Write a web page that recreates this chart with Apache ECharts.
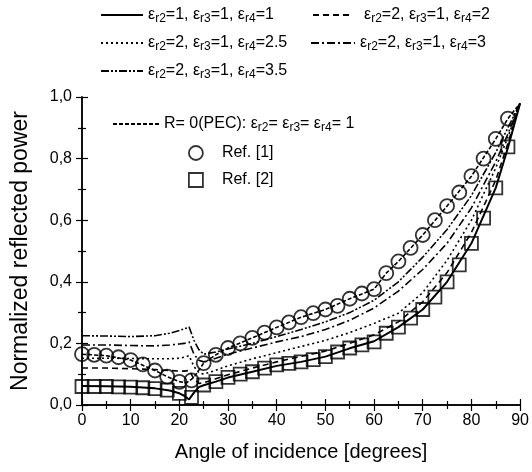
<!DOCTYPE html>
<html><head><meta charset="utf-8">
<script src="https://cdn.jsdelivr.net/npm/echarts@6/dist/echarts.min.js"></script>
<style>html,body{margin:0;padding:0;background:#fff}#c{width:532px;height:472px}</style>
</head><body><div id="c"></div>
<script>
// ---- data ----
const lineAngles = [0,5,10,15,18,20,21,22,23,24,25,27.5,30,35,40,45,50,55,60,65,70,75,80,85,87.5,90];
const solid_111 = [0.062,0.061,0.059,0.054,0.047,0.038,0.03,0.018,0.04,0.058,0.064,0.076,0.089,0.108,0.127,0.14,0.157,0.184,0.207,0.253,0.31,0.4,0.525,0.705,0.835,0.98];
const dashed_212 = [0.12,0.12,0.118,0.115,0.112,0.11,0.11,0.112,0.085,0.07,0.072,0.085,0.098,0.12,0.14,0.158,0.175,0.2,0.228,0.27,0.335,0.43,0.56,0.73,0.85,0.98];
const dotted_2125 = [0.152,0.152,0.151,0.15,0.15,0.152,0.155,0.16,0.125,0.105,0.1,0.113,0.127,0.15,0.17,0.19,0.21,0.235,0.265,0.298,0.365,0.47,0.6,0.77,0.87,0.98];
const dashdot_213 = [0.195,0.195,0.193,0.192,0.195,0.198,0.2,0.205,0.165,0.145,0.14,0.152,0.165,0.185,0.205,0.222,0.245,0.275,0.315,0.37,0.44,0.525,0.64,0.79,0.88,0.98];
const dashdotdot_2135 = [0.225,0.224,0.222,0.225,0.233,0.242,0.247,0.253,0.21,0.18,0.165,0.172,0.182,0.2,0.222,0.245,0.27,0.3,0.34,0.4,0.48,0.57,0.68,0.82,0.9,0.98];
const pecAngles = [0,5,10,15,17.5,20,21.5,23,25,27.5,30,35,40,45,50,55,60,62.5,65,70,75,80,85,87.5,90];
const pec = [0.165,0.16,0.146,0.112,0.092,0.076,0.072,0.09,0.136,0.163,0.185,0.218,0.252,0.285,0.31,0.345,0.376,0.428,0.466,0.552,0.646,0.743,0.864,0.93,0.98];
const refAngles = [0,2.5,5,7.5,10,12.5,15,17.5,20,22.5,25,27.5,30,32.5,35,37.5,40,42.5,45,47.5,50,52.5,55,57.5,60,62.5,65,67.5,70,72.5,75,77.5,80,82.5,85,87.5];
const ref1 = [0.165,0.163,0.16,0.155,0.146,0.132,0.112,0.092,0.075,0.08,0.136,0.163,0.185,0.2,0.218,0.235,0.252,0.268,0.285,0.298,0.31,0.322,0.345,0.362,0.376,0.428,0.466,0.51,0.552,0.6,0.646,0.69,0.743,0.8,0.864,0.93];
const ref2 = [0.06,0.06,0.06,0.059,0.058,0.056,0.053,0.048,0.038,0.025,0.065,0.076,0.09,0.1,0.108,0.12,0.13,0.135,0.14,0.147,0.157,0.172,0.185,0.195,0.205,0.233,0.253,0.282,0.31,0.35,0.4,0.455,0.525,0.607,0.705,0.838];
const xTicks = {min:0, max:90, step:10};
const yTicks = {min:0, max:1, step:0.2};
const legendNames = {
  s1: '{n|ε}{s|r2}{n|=1, ε}{s|r3}{n|=1, ε}{s|r4}{n|=1}',
  s2: '{n|ε}{s|r2}{n|=2, ε}{s|r3}{n|=1, ε}{s|r4}{n|=2}',
  s3: '{n|ε}{s|r2}{n|=2, ε}{s|r3}{n|=1, ε}{s|r4}{n|=2.5}',
  s4: '{n|ε}{s|r2}{n|=2, ε}{s|r3}{n|=1, ε}{s|r4}{n|=3}',
  s5: '{n|ε}{s|r2}{n|=2, ε}{s|r3}{n|=1, ε}{s|r4}{n|=3.5}',
  pec: '{n|R= 0(PEC): ε}{s|r2}{n|= ε}{s|r3}{n|= ε}{s|r4}{n|= 1}',
  r1: '{n|Ref. [1]}',
  r2: '{n|Ref. [2]}'
};
// ---- chart ----
const zip = (a, b) => a.map((x, i) => [x, b[i]]);
const FONT = 'Liberation Sans, Arial, sans-serif';
const rich = {
  n: {fontSize: 16, fontFamily: FONT, color: '#000', lineHeight: 18},
  s: {fontSize: 12, fontFamily: FONT, color: '#000', lineHeight: 18, padding: [8, 0, 0, 0]}
};
function lineSeries(name, data, type, width) {
  return {name, type: 'line', data, symbol: 'none', showSymbol: false, smooth: false, z: 3,
    lineStyle: {color: '#000', width: width || 1.6, type: type}, itemStyle: {color: '#000'}};
}
function legendAt(name, left, top, extra) {
  return Object.assign({data: [name], left, top, itemWidth: 42, itemHeight: 14, itemGap: 0,
    itemStyle: {opacity: 0},
    formatter: n => legendNames[n], textStyle: {rich, color: '#000'}, selectedMode: false, padding: 0}, extra || {});
}
const axisCommon = {
  axisLine: {lineStyle: {color: '#000', width: 1.5}},
  axisTick: {inside: true, length: 6, lineStyle: {color: '#000', width: 1.2}},
  minorTick: {show: true, splitNumber: 2, length: 4, lineStyle: {color: '#000', width: 1.2}},
  splitLine: {show: false}, minorSplitLine: {show: false}
};
const chart = echarts.init(document.getElementById('c'), null, {renderer: 'canvas'});
chart.setOption({
  backgroundColor: '#fff',
  animation: false,
  grid: {left: 82, right: 10, top: 97, bottom: 67},
  xAxis: [
    Object.assign({type: 'value', min: xTicks.min, max: xTicks.max, interval: xTicks.step, position: 'bottom',
      axisLabel: {color: '#000', fontSize: 16, fontFamily: FONT, margin: 8},
      name: 'Angle of incidence [degrees]', nameLocation: 'middle', nameGap: 37,
      nameTextStyle: {color: '#000', fontSize: 20, fontFamily: FONT}}, axisCommon),
    Object.assign({type: 'value', min: xTicks.min, max: xTicks.max, interval: xTicks.step, position: 'top',
      axisLabel: {show: false}}, axisCommon)
  ],
  yAxis: [
    Object.assign({type: 'value', min: yTicks.min, max: yTicks.max, interval: yTicks.step, position: 'left',
      axisLabel: {color: '#000', fontSize: 16, fontFamily: FONT, margin: 10,
        formatter: v => v.toFixed(1).replace('.', ',')},
      name: 'Normalized reflected power', nameLocation: 'middle', nameGap: 50,
      nameTextStyle: {color: '#000', fontSize: 23, fontFamily: FONT}}, axisCommon),
    Object.assign({type: 'value', min: yTicks.min, max: yTicks.max, interval: yTicks.step, position: 'right',
      axisLabel: {show: false}}, axisCommon)
  ],
  legend: [
    legendAt('s1', 100, 5),
    legendAt('s2', 312, 5, {itemWidth: 40, textStyle: {rich, color: '#000', padding: [0, 0, 0, 6]}}),
    legendAt('s3', 100, 33),
    legendAt('s4', 310, 33, {itemWidth: 44}),
    legendAt('s5', 100, 61),
    legendAt('pec', 112, 114, {itemWidth: 46}),
    legendAt('r1', 188, 145, {itemWidth: 14, itemHeight: 14, textStyle: {rich, color: '#000', padding: [0, 0, 0, 14]},
      itemStyle: {color: 'transparent', borderColor: '#000', borderWidth: 1.8}}),
    legendAt('r2', 188, 172, {itemWidth: 14, itemHeight: 14, textStyle: {rich, color: '#000', padding: [0, 0, 0, 14]},
      itemStyle: {color: 'transparent', borderColor: '#000', borderWidth: 1.8}})
  ],
  series: [
    lineSeries('s1', zip(lineAngles, solid_111), 'solid', 2),
    lineSeries('s2', zip(lineAngles, dashed_212), [6, 4]),
    lineSeries('s3', zip(lineAngles, dotted_2125), [2, 3]),
    lineSeries('s4', zip(lineAngles, dashdot_213), [8, 3, 2, 3]),
    lineSeries('s5', zip(lineAngles, dashdotdot_2135), [8, 2, 2, 2, 2, 2]),
    lineSeries('pec', zip(pecAngles, pec), [4, 2]),
    {name: 'r1', type: 'scatter', data: zip(refAngles, ref1), symbol: 'circle', symbolSize: 14, z: 4,
      itemStyle: {color: 'transparent', borderColor: '#000', borderWidth: 1.8}},
    {name: 'r2', type: 'scatter', data: zip(refAngles, ref2), symbol: 'rect', symbolSize: 13, z: 4,
      itemStyle: {color: 'transparent', borderColor: '#000', borderWidth: 1.8}}
  ]
});
</script></body></html>
